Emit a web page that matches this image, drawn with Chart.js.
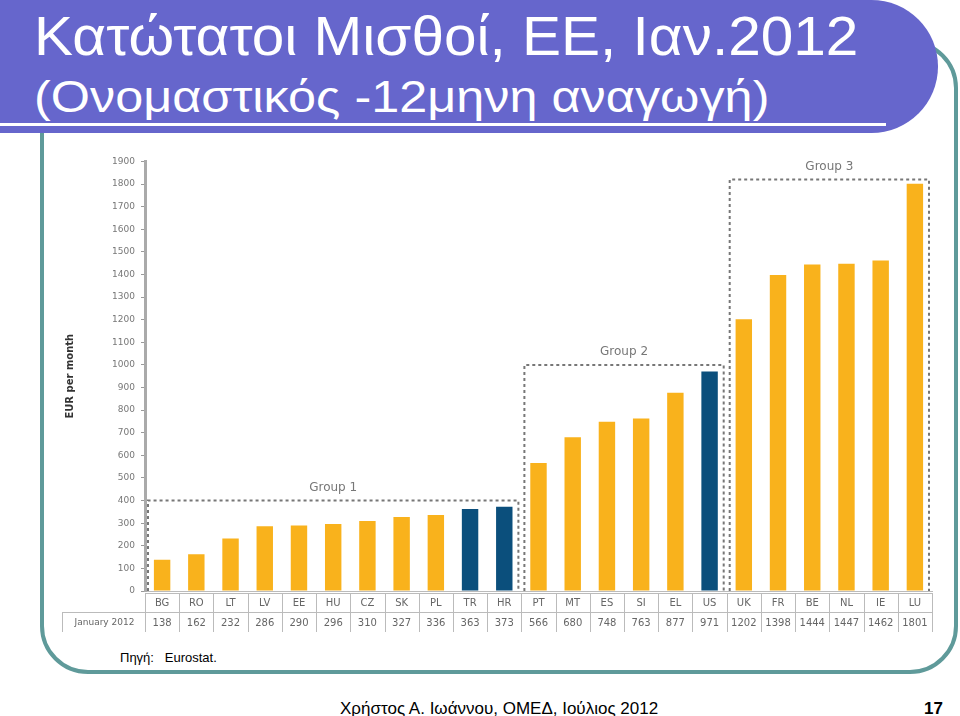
<!DOCTYPE html>
<html>
<head>
<meta charset="utf-8">
<script src="https://cdn.jsdelivr.net/npm/chart.js@4.4.1/dist/chart.umd.min.js"></script>
<style>
  body { margin: 0; width: 960px; height: 716px; background: #fff; position: relative; overflow: hidden; font-family: "Liberation Sans", Arial, sans-serif; }
  .frame { position: absolute; left: 40px; top: 40px; width: 918px; height: 634px; box-sizing: border-box; border: 4px solid #5f9a9a; border-radius: 48px; }
  .titlebox { position: absolute; left: 0; top: 0; width: 938px; height: 133px; background: #6666cc; border-radius: 0 72px 72px 0; }
  .t1, .t2 { position: absolute; left: 34px; color: #fff; white-space: nowrap; line-height: 1; transform-origin: 0 0; }
  .t1 { top: 8px; font-size: 56px; transform: scaleX(1.045); }
  .t2 { top: 75px; font-size: 44px; transform: scaleX(1.145); }
  .uline { position: absolute; left: 0; top: 123px; width: 886px; height: 3px; background: #fff; }
  .chartwrap { position: absolute; left: 60px; top: 150px; width: 880px; height: 482px; }
  .src { position: absolute; left: 120px; top: 650px; font-size: 13px; color: #000; }
  .foot { position: absolute; left: 340px; top: 700px; font-size: 17px; line-height: 1; color: #000; }
  .page { position: absolute; left: 924px; top: 700px; font-size: 17px; line-height: 1; font-weight: bold; color: #000; }
</style>
</head>
<body>
<div class="frame"></div>
<div class="titlebox"></div>
<div class="t1">Κατώτατοι Μισθοί, ΕΕ, Ιαν.2012</div>
<div class="t2">(Ονομαστικός -12μηνη αναγωγή)</div>
<div class="uline"></div>
<div class="chartwrap"><canvas id="chart"></canvas></div>
<div class="src">Πηγή:&nbsp;&nbsp; Eurostat.</div>
<div class="foot">Χρήστος Α. Ιωάννου, ΟΜΕΔ, Ιούλιος 2012</div>
<div class="page">17</div>
<script>
// countries and minimum wage, January 2012 (EUR per month)
const countries = ['BG','RO','LT','LV','EE','HU','CZ','SK','PL','TR','HR','PT','MT','ES','SI','EL','US','UK','FR','BE','NL','IE','LU'];
const wages = [138,162,232,286,290,296,310,327,336,363,373,566,680,748,763,877,971,1202,1398,1444,1447,1462,1801];
const nonEU = ['TR','HR','US'];

// dotted group boxes
const groupNames = ['Group 1','Group 2','Group 3'];
const groupFirst = [0, 11, 17];
const groupLast = [10, 16, 22];
const groupTop = [400, 1000, 1820];

const orange = '#f9b21c';
const blue = '#0b4f7c';

const tablePlugin = {
  id: 'tablePlugin',
  afterDraw(chart) {
    const ctx = chart.ctx;
    const x = chart.scales.x;
    const y = chart.scales.y;
    const step = x.getPixelForValue(1) - x.getPixelForValue(0);
    const left = chart.chartArea.left;
    const right = x.getPixelForValue(countries.length - 1) + step / 2;
    const r1 = chart.chartArea.bottom + 2;
    const r2 = r1 + 19;
    const r3 = r2 + 20;

    ctx.save();
    // group boxes
    ctx.strokeStyle = '#777';
    ctx.lineWidth = 2;
    ctx.setLineDash([3, 3]);
    groupNames.forEach((name, i) => {
      const gx0 = x.getPixelForValue(groupFirst[i]) - step / 2 + 3;
      const gx1 = x.getPixelForValue(groupLast[i]) + step / 2 - 3;
      const gy = y.getPixelForValue(groupTop[i]);
      ctx.beginPath();
      ctx.moveTo(gx0, y.bottom);
      ctx.lineTo(gx0, gy);
      ctx.lineTo(gx1, gy);
      ctx.lineTo(gx1, y.bottom);
      ctx.stroke();
    });
    ctx.setLineDash([]);
    ctx.fillStyle = '#777';
    ctx.font = '12px "DejaVu Sans", sans-serif';
    ctx.textAlign = 'center';
    ctx.textBaseline = 'bottom';
    groupNames.forEach((name, i) => {
      const cx = (x.getPixelForValue(groupFirst[i]) + x.getPixelForValue(groupLast[i])) / 2;
      ctx.fillText(name, cx, y.getPixelForValue(groupTop[i]) - 7);
    });

    // table
    ctx.strokeStyle = '#bbb';
    ctx.lineWidth = 1;
    ctx.strokeRect(2.5, r2 + 0.5, right - 2, r3 - r2);
    ctx.strokeRect(left + 0.5, r1 + 0.5, right - left, r3 - r1);
    ctx.beginPath();
    countries.forEach((c, i) => {
      const bx = Math.round(x.getPixelForValue(i) + step / 2) + 0.5;
      ctx.moveTo(bx, r1);
      ctx.lineTo(bx, r3);
    });
    ctx.stroke();
    ctx.fillStyle = '#666';
    ctx.font = '10px "DejaVu Sans", sans-serif';
    ctx.textBaseline = 'middle';
    countries.forEach((c, i) => {
      const cx = x.getPixelForValue(i);
      ctx.fillText(c, cx, (r1 + r2) / 2 + 1);
      ctx.fillText(String(wages[i]), cx, (r2 + r3) / 2 + 1);
    });
    ctx.font = '9px "DejaVu Sans", sans-serif';
    ctx.fillText('January 2012', (2 + left) / 2 + 1, (r2 + r3) / 2 + 1);
    ctx.restore();
  }
};

new Chart(document.getElementById('chart'), {
  type: 'bar',
  data: {
    labels: countries,
    datasets: [{
      data: wages,
      backgroundColor: countries.map(c => nonEU.includes(c) ? blue : orange),
      barPercentage: 0.48,
      categoryPercentage: 1
    }]
  },
  options: {
    responsive: true,
    maintainAspectRatio: false,
    animation: false,
    layout: { padding: { top: 11, right: 8, left: 0, bottom: 0 } },
    plugins: { legend: { display: false }, tooltip: { enabled: false } },
    scales: {
      x: {
        ticks: { display: false },
        grid: { display: false },
        border: { color: '#bbb', width: 1 },
        afterFit: s => { s.height = 41; }
      },
      y: {
        min: 0,
        max: 1900,
        ticks: { stepSize: 100, color: '#777', font: { size: 9, family: '"DejaVu Sans", sans-serif' }, padding: 6, callback: v => String(v) },
        grid: { drawOnChartArea: false, tickLength: 4, color: '#999' },
        border: { color: '#aaa', width: 3 },
        title: { display: true, text: 'EUR per month', color: '#333', font: { size: 10, weight: 'bold', family: '"DejaVu Sans", sans-serif' }, padding: { bottom: 24 } },
        afterFit: s => { s.width = 85; }
      }
    }
  },
  plugins: [tablePlugin]
});
</script>
</body>
</html>
